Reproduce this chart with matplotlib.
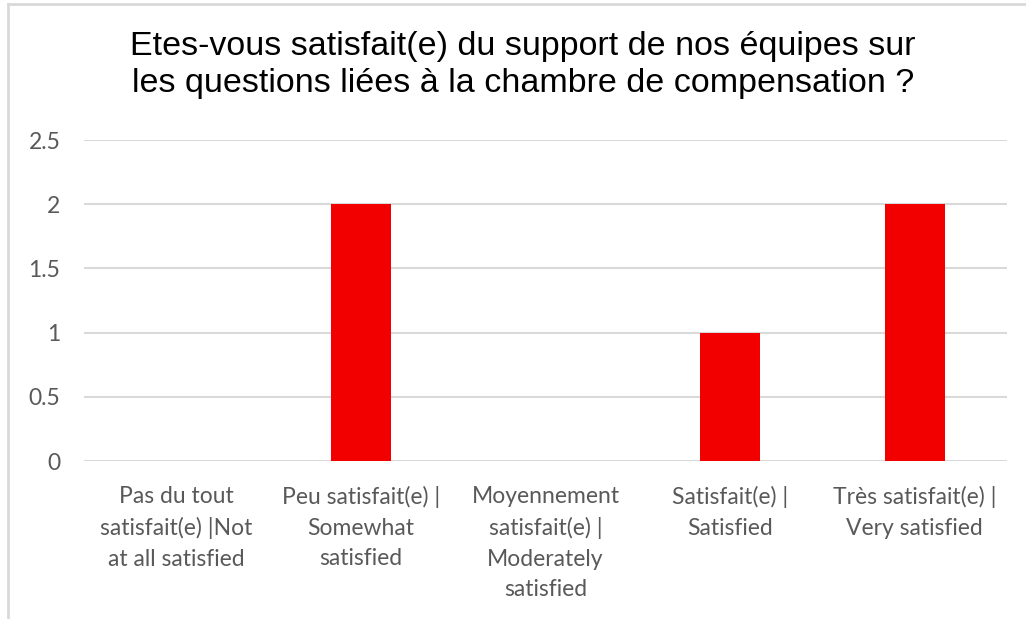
import numpy as np
import matplotlib.pyplot as plt
from matplotlib.lines import Line2D

# Chart data
categories = [
    "Pas du tout\nsatisfait(e) |Not\nat all satisfied",
    "Peu satisfait(e) |\nSomewhat\nsatisfied",
    "Moyennement\nsatisfait(e) |\nModerately\nsatisfied",
    "Satisfait(e) |\nSatisfied",
    "Très satisfait(e) |\nVery satisfied",
]
counts = [0, 2, 0, 1, 2]
yticks = [0, 0.5, 1, 1.5, 2, 2.5]
ytick_labels = ["0", "0.5", "1", "1.5", "2", "2.5"]
title = ("Etes-vous satisfait(e) du support de nos équipes sur\n"
         "les questions liées à la chambre de compensation ?")

W, H = 1026, 619
fig = plt.figure(figsize=(W / 100, H / 100), dpi=100)
fig.patch.set_facecolor("white")

# plot area in pixels: left 84, right 1007, top (2.5) 140, bottom (0) 461
ax = fig.add_axes([84 / W, 1 - 461 / H, (1007 - 84) / W, (461 - 140) / H])

x = np.arange(len(categories))
ax.bar(x, counts, width=0.325, color="#f20000", zorder=3)

ax.set_xlim(-0.5, len(categories) - 0.5)
ax.set_ylim(0, 2.5)
ax.set_yticks(yticks)
ax.set_yticklabels(ytick_labels)
ax.set_xticks(x)
ax.set_xticklabels(categories)

for s in ax.spines.values():
    s.set_visible(False)
ax.grid(axis="y", color="#d9d9d9", linewidth=1.5, zorder=0)
ax.set_axisbelow(True)
ax.tick_params(length=0)
ax.tick_params(axis="y", pad=17, labelsize=16.5, labelcolor="#595959")
ax.tick_params(axis="x", pad=18, labelsize=16.5, labelcolor="#595959")
for lbl in ax.get_xticklabels() + ax.get_yticklabels():
    lbl.set_fontfamily("Lato")
for lbl in ax.get_xticklabels():
    lbl.set_linespacing(1.56)
    lbl.set_verticalalignment("top")

fig.text(523 / W, 1 - 65 / H, title, ha="center", va="center",
         fontsize=24.5, family="Liberation Sans", color="#000000",
         linespacing=1.28)

# chart frame (top and left edges visible in the screenshot)
fig.add_artist(Line2D([8 / W, 1], [1 - 4 / H, 1 - 4 / H], color="#d9d9d9",
                      linewidth=2, transform=fig.transFigure))
fig.add_artist(Line2D([8 / W, 8 / W], [0, 1 - 4 / H], color="#d9d9d9",
                      linewidth=2, transform=fig.transFigure))

fig.savefig("out.png", dpi=100)
